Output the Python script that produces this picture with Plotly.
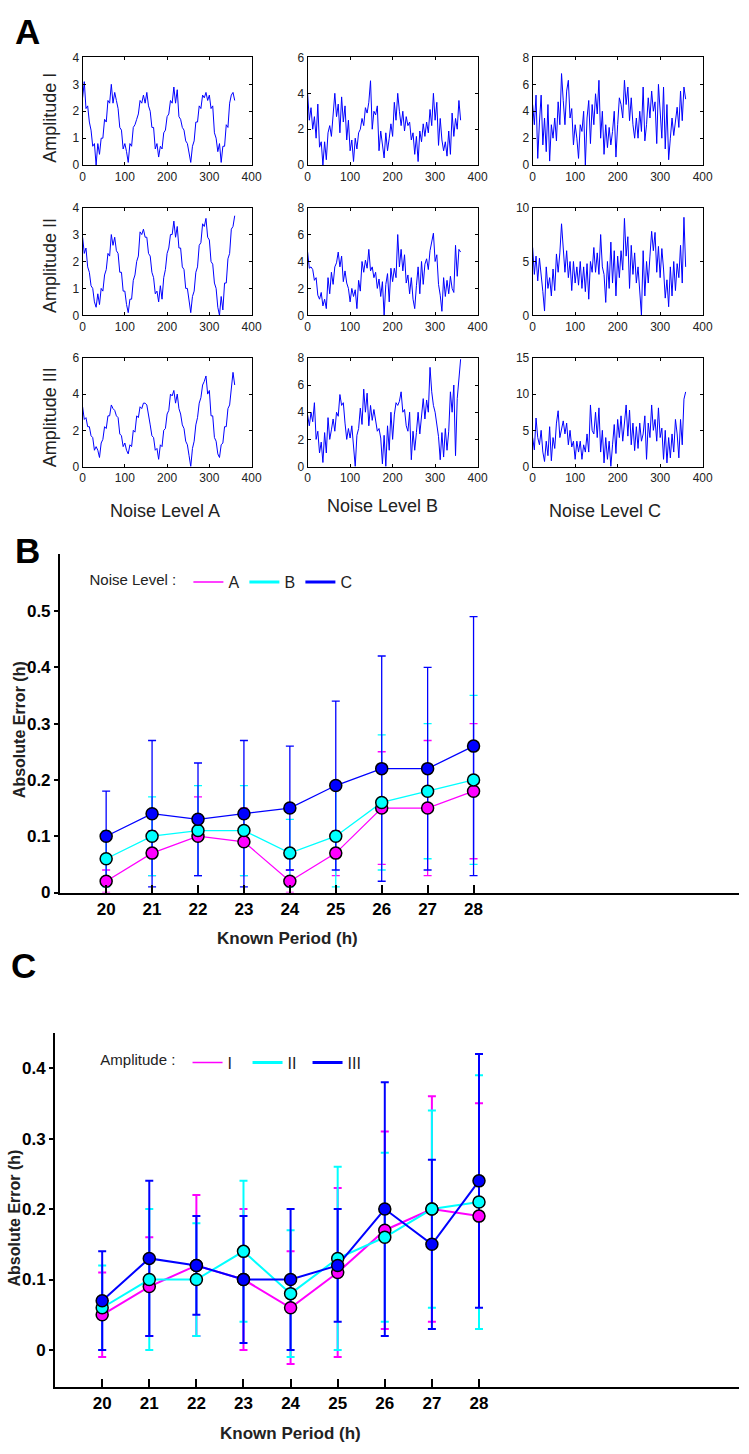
import plotly.graph_objects as go

W, H = 749, 1454

# ---- panel A: simulated time series (value every 4 h, 0..360) ----
hours = list(range(0, 361, 4))

amp1_noise_a = [2.5, 3.1, 2.1, 2.2, 1.6, 1.3, 0.7, 0.8, 0.0, 0.8,
                0.4, 1.0, 1.0, 1.7, 1.6, 2.4, 2.3, 3.0, 2.3, 2.7,
                2.4, 2.1, 1.4, 1.3, 0.6, 0.8, 0.5, 0.1, 0.8, 0.7,
                1.4, 1.5, 1.7, 1.9, 2.4, 2.3, 2.6, 2.3, 2.7, 2.2,
                2.0, 1.4, 1.4, 0.6, 0.8, 0.3, 0.7, 0.6, 1.2, 1.3,
                1.8, 1.9, 2.4, 2.3, 2.9, 2.3, 2.8, 1.8, 1.7, 1.4,
                1.3, 0.9, 0.8, 0.4, 0.1, 0.7, 0.9, 1.6, 1.6, 2.2,
                2.1, 2.6, 2.5, 2.7, 2.4, 2.6, 2.1, 2.2, 1.2, 1.0,
                0.5, 0.8, 0.1, 0.7, 0.7, 1.5, 1.4, 2.3, 2.6, 2.7,
                2.4]
amp2_noise_a = [2.9, 2.3, 2.5, 1.8, 1.6, 1.1, 1.0, 0.5, 0.3, 0.8,
                0.4, 1.0, 0.9, 1.5, 1.7, 2.3, 2.2, 3.0, 2.6, 2.9,
                2.4, 2.3, 1.6, 1.6, 0.9, 0.9, 0.4, 0.1, 0.6, 0.6,
                1.3, 1.5, 2.0, 2.2, 3.1, 3.0, 3.2, 2.9, 2.9, 2.3,
                2.2, 1.6, 1.4, 0.8, 0.9, 0.5, 1.1, 0.6, 1.4, 1.7,
                2.3, 2.5, 3.0, 3.0, 3.5, 2.9, 3.3, 2.5, 2.5, 1.8,
                1.7, 1.0, 1.0, 0.5, 0.1, 0.7, 0.9, 1.6, 1.8, 2.6,
                2.7, 3.4, 3.3, 3.6, 2.9, 2.8, 2.0, 1.9, 1.2, 1.0,
                0.3, 0.0, 0.7, 0.2, 1.2, 1.2, 2.1, 2.3, 3.2, 3.3,
                3.7]
amp3_noise_a = [3.3, 2.6, 2.7, 2.2, 2.2, 1.7, 1.6, 0.9, 1.1, 0.9,
                0.5, 1.3, 1.5, 2.2, 2.1, 2.8, 2.8, 3.4, 3.2, 3.1,
                2.8, 2.7, 1.8, 1.7, 1.1, 1.3, 0.9, 0.7, 1.2, 1.1,
                2.0, 1.9, 2.8, 2.7, 3.3, 3.2, 3.5, 3.5, 3.4, 2.7,
                2.3, 1.7, 1.6, 0.9, 1.0, 0.4, 1.2, 1.1, 2.0, 2.1,
                2.9, 3.1, 4.0, 3.9, 4.2, 3.5, 4.0, 3.2, 2.9, 2.3,
                2.1, 1.4, 1.2, 0.6, 0.0, 1.0, 1.4, 2.3, 2.7, 3.5,
                3.8, 4.5, 4.7, 5.0, 4.0, 4.2, 2.8, 2.8, 1.6, 1.4,
                0.7, 0.5, 1.2, 1.3, 2.2, 2.2, 3.2, 3.4, 4.5, 5.2,
                4.5]
amp1_noise_b = [4.0, 2.5, 3.2, 2.0, 2.7, 1.5, 3.4, 1.0, 1.3, 0.0,
                1.3, 0.3, 1.8, 2.2, 1.6, 2.6, 4.0, 2.7, 3.4, 1.8,
                3.8, 2.4, 3.3, 1.4, 2.5, 0.8, 1.4, 0.2, 1.5, 0.9,
                1.8, 2.0, 2.6, 2.2, 3.2, 2.9, 3.5, 4.7, 2.0, 3.0,
                2.8, 3.3, 0.8, 1.9, 1.2, 0.4, 1.8, 0.8, 1.5, 2.3,
                1.6, 3.5, 2.5, 4.0, 3.0, 2.2, 3.0, 1.9, 2.7, 2.2,
                2.4, 1.4, 1.8, 0.6, 1.6, 0.2, 1.9, 1.3, 2.3, 1.6,
                2.4, 1.8, 3.1, 2.2, 4.0, 2.5, 3.5, 1.1, 2.6, 1.4,
                0.8, 1.3, 0.5, 1.9, 0.6, 2.9, 1.6, 2.6, 2.0, 3.6,
                2.5]
amp2_noise_b = [4.7, 3.5, 3.6, 3.4, 2.6, 2.8, 1.5, 1.2, 1.7, 0.7,
                1.2, 0.5, 2.8, 1.6, 3.2, 2.3, 3.6, 3.9, 4.7, 3.6,
                4.4, 2.5, 3.3, 2.4, 2.0, 1.0, 2.0, 1.4, 1.9, 0.5,
                2.6, 1.8, 4.0, 3.2, 4.1, 3.5, 4.9, 3.3, 3.6, 2.8,
                3.2, 2.0, 2.7, 1.4, 2.5, 0.0, 2.3, 3.1, 1.0, 3.5,
                2.5, 3.5, 2.8, 6.0, 3.6, 4.9, 3.3, 4.5, 2.4, 3.0,
                1.6, 2.8, 1.2, 0.5, 2.2, 3.6, 1.6, 4.0, 2.3, 3.8,
                4.2, 3.4, 4.8, 5.5, 6.1, 4.0, 4.5, 2.3, 1.5, 0.3,
                2.8, 1.4, 2.6, 1.6, 2.9, 2.0, 1.7, 5.2, 2.9, 4.9,
                4.7]
amp3_noise_b = [3.8, 3.0, 4.0, 3.3, 4.7, 2.0, 2.6, 1.0, 1.8, 0.3,
                2.5, 1.0, 3.6, 2.0, 2.7, 3.5, 2.6, 4.0, 3.7, 5.3,
                4.5, 4.7, 3.2, 2.0, 2.8, 2.1, 3.0, 1.2, 0.0, 2.3,
                2.8, 4.3, 3.1, 5.7, 4.0, 5.4, 3.0, 4.5, 3.4, 4.2,
                3.3, 2.6, 2.8, 2.1, 0.2, 2.3, 0.0, 3.0, 1.2, 4.0,
                2.0, 3.8, 4.7, 4.5, 4.8, 5.5, 4.0, 4.2, 3.0, 2.6,
                4.0, 0.5, 2.6, 1.2, 2.5, 4.0, 2.4, 3.7, 5.0, 3.5,
                4.9, 4.0, 7.3, 5.5, 4.5, 4.0, 3.0, 2.2, 0.5, 2.5,
                0.7, 2.8, 1.2, 2.6, 5.5, 4.0, 6.0, 0.8, 5.0, 6.5,
                7.9]
amp1_noise_c = [4.5, 3.0, 5.2, 0.5, 3.2, 5.2, 1.5, 3.5, 1.0, 4.5,
                0.3, 3.0, 2.0, 3.5, 1.8, 4.7, 3.0, 6.8, 4.8, 3.0,
                5.5, 6.3, 3.5, 4.2, 1.5, 3.0, 2.0, 0.5, 3.0, 2.5,
                4.0, 0.0, 3.5, 4.8, 1.6, 4.5, 3.0, 5.3, 3.8, 6.3,
                2.0, 4.0, 0.8, 3.0, 1.3, 2.8, 1.5, 2.5, 4.0, 0.6,
                3.0, 5.0, 4.5, 3.5, 6.3, 4.5, 5.8, 3.3, 5.0, 3.0,
                2.0, 3.5, 2.0, 4.0, 2.5, 5.8, 1.8, 3.0, 5.0, 3.5,
                5.5, 4.0, 4.7, 1.6, 6.0, 3.5, 2.0, 5.8, 1.2, 4.5,
                0.4, 2.0, 3.5, 2.2, 3.5, 4.3, 2.8, 5.5, 3.3, 5.8,
                4.9]
amp2_noise_c = [6.3, 3.8, 5.5, 3.2, 5.3, 4.0, 2.2, 0.4, 4.5, 2.5,
                3.5, 1.8, 4.3, 2.3, 5.7, 4.0, 5.8, 8.5, 6.0, 4.0,
                6.0, 3.5, 5.0, 2.3, 5.0, 3.0, 4.5, 2.8, 5.0, 2.5,
                4.5, 2.2, 4.8, 1.5, 5.0, 4.0, 6.3, 4.0, 5.8, 3.8,
                7.5, 4.5, 3.8, 1.2, 5.0, 2.5, 6.8, 3.0, 6.0, 1.8,
                5.5, 3.5, 6.0, 4.2, 9.0, 5.5, 7.3, 2.5, 6.5, 3.8,
                5.8, 3.0, 4.5, 2.0, 0.0, 6.0, 1.8, 5.0, 3.0, 5.5,
                7.8, 6.0, 7.7, 4.0, 6.4, 3.5, 6.2, 4.3, 1.6, 3.3,
                0.8, 4.5, 1.8, 5.0, 2.3, 4.8, 3.5, 6.5, 3.0, 9.1,
                4.5]
amp3_noise_c = [4.0, 2.3, 6.7, 4.0, 3.0, 5.0, 2.0, 0.7, 3.5, 1.5,
                5.5, 0.8, 4.0, 2.5, 6.0, 7.7, 4.0, 5.0, 6.3, 4.5,
                6.0, 3.0, 5.0, 2.7, 3.5, 1.0, 3.5, 2.0, 3.5, 1.0,
                3.0, 2.0, 4.5, 2.0, 8.5, 5.0, 4.5, 7.5, 4.0, 8.1,
                2.0, 5.0, 0.5, 4.0, 1.0, 3.5, 0.0, 3.0, 5.8, 1.8,
                6.5, 4.0, 7.0, 3.5, 6.0, 8.5, 4.2, 7.8, 3.0, 6.0,
                2.2, 5.5, 2.5, 6.0, 3.5, 4.5, 7.0, 1.0, 6.0, 4.0,
                8.5, 5.0, 6.5, 3.5, 8.1, 4.0, 5.3, 1.0, 5.0, 0.5,
                4.0, 1.2, 4.5, 2.0, 6.5, 4.5, 1.2, 6.5, 3.0, 9.3,
                10.3]

amp_labels = ['Amplitude I', 'Amplitude II', 'Amplitude III']
noise_labels = ['Noise Level A', 'Noise Level B', 'Noise Level C']
y_max = [[4, 6, 8], [4, 8, 10], [6, 8, 15]]
y_step = [[1, 2, 2], [1, 2, 5], [2, 2, 5]]

# ---- panel B: error vs known period, by noise level ----
periods = [20, 21, 22, 23, 24, 25, 26, 27, 28]
noise_names = ['A', 'B', 'C']
noise_mean = [
    [0.02, 0.07, 0.10, 0.09, 0.02, 0.07, 0.15, 0.15, 0.18],
    [0.06, 0.10, 0.11, 0.11, 0.07, 0.10, 0.16, 0.18, 0.20],
    [0.10, 0.14, 0.13, 0.14, 0.15, 0.19, 0.22, 0.22, 0.26],
]
noise_sd = [
    [0.02, 0.04, 0.07, 0.06, 0.02, 0.04, 0.10, 0.12, 0.12],
    [0.05, 0.07, 0.08, 0.08, 0.06, 0.09, 0.12, 0.12, 0.15],
    [0.08, 0.13, 0.10, 0.13, 0.11, 0.15, 0.20, 0.18, 0.23],
]

# ---- panel C: error vs known period, by amplitude ----
amp_names = ['I', 'II', 'III']
amp_mean = [
    [0.05, 0.09, 0.12, 0.10, 0.06, 0.11, 0.17, 0.20, 0.19],
    [0.06, 0.10, 0.10, 0.14, 0.08, 0.13, 0.16, 0.20, 0.21],
    [0.07, 0.13, 0.12, 0.10, 0.10, 0.12, 0.20, 0.15, 0.24],
]
amp_sd = [
    [0.06, 0.07, 0.10, 0.10, 0.08, 0.12, 0.14, 0.16, 0.16],
    [0.06, 0.10, 0.08, 0.10, 0.09, 0.13, 0.12, 0.14, 0.18],
    [0.07, 0.11, 0.07, 0.09, 0.10, 0.08, 0.18, 0.12, 0.18],
]

colors = ['#ff00ff', '#00ffff', '#0000ff']
SANS = 'Liberation Sans, Arial, sans-serif'

series = [[amp1_noise_a, amp1_noise_b, amp1_noise_c],
          [amp2_noise_a, amp2_noise_b, amp2_noise_c],
          [amp3_noise_a, amp3_noise_b, amp3_noise_c]]


def px(x):
    return x / W


def py(y):
    return 1 - y / H


fig = go.Figure()
layout = {}
annotations = []

col_px = [(81, 253), (310, 483), (539, 712)]
row_px = [(51, 160), (203, 312), (355, 465)]

for r in range(3):
    for c in range(3):
        n = r * 3 + c + 1
        ys = series[r][c]
        assert len(ys) == len(hours)
        fig.add_trace(go.Scatter(
            x=hours, y=ys, mode='lines',
            line=dict(color='#0000ff', width=1),
            showlegend=False, hoverinfo='skip',
            xaxis=f'x{n}', yaxis=f'y{n}'
        ))
        common = dict(
            showline=True, linecolor='black', linewidth=1, mirror='ticks',
            ticks='inside', ticklen=3, tickcolor='black',
            showgrid=False, zeroline=False,
            tickfont=dict(family=SANS, size=12, color='#222'),
        )
        layout[f'xaxis{n}'] = dict(
            common, domain=[px(col_px[c][0]), px(col_px[c][1])],
            range=[0, 400], dtick=100, anchor=f'y{n}',
        )
        layout[f'yaxis{n}'] = dict(
            common, domain=[py(row_px[r][1]), py(row_px[r][0])],
            range=[0, y_max[r][c]], dtick=y_step[r][c], anchor=f'x{n}',
        )

for r, label in enumerate(amp_labels):
    annotations.append(dict(
        text=label, x=px(48), y=py([112, 262, 415][r]), textangle=-90,
        font=dict(family=SANS, size=18, color='#222')
    ))
for c, label in enumerate(noise_labels):
    annotations.append(dict(
        text=label, x=px([165, 386, 613][c]), y=py([510, 505, 510][c]),
        font=dict(family=SANS, size=18, color='#222')
    ))


def error_panel(xa, ya, means, sds, names, legend, lw, ew, legend_w):
    for k in range(3):
        fig.add_trace(go.Scatter(
            x=periods, y=means[k], mode='lines',
            line=dict(color=colors[k], width=lw),
            error_y=dict(type='data', array=sds[k], color=colors[k],
                         thickness=ew, width=4),
            showlegend=False, xaxis=xa, yaxis=ya
        ))
    for k in range(3):
        fig.add_trace(go.Scatter(
            x=periods, y=means[k], mode='markers',
            marker=dict(size=12, color=colors[k], line=dict(color='black', width=1.5)),
            showlegend=False, xaxis=xa, yaxis=ya
        ))
    for k in range(3):
        fig.add_trace(go.Scatter(
            x=[None], y=[None], mode='lines', name=names[k],
            line=dict(color=colors[k], width=legend_w[k]),
            legend=legend, xaxis=xa, yaxis=ya
        ))


error_panel('x10', 'y10', noise_mean, noise_sd, noise_names, 'legend', 1.3, 1.3, [1.5, 3, 3])
error_panel('x11', 'y11', amp_mean, amp_sd, amp_names, 'legend2', 2, 2, [1.5, 3, 3])

big_x = dict(
    tickvals=periods, showline=True, linecolor='black', linewidth=2,
    ticks='inside', ticklen=8, tickwidth=2, tickcolor='black',
    showgrid=False, zeroline=False,
    tickfont=dict(family=SANS, size=17, color='black', weight='bold'),
)
big_y = dict(
    showline=True, linecolor='black', linewidth=2,
    ticks='outside', ticklen=4, tickwidth=1.5, tickcolor='black',
    showgrid=False, zeroline=False,
    tickfont=dict(family=SANS, size=17, color='black', weight='bold'),
)
layout['xaxis10'] = dict(big_x, domain=[px(58), 1], range=[18.995, 33.78], anchor='y10')
layout['yaxis10'] = dict(big_y, domain=[py(896), py(553)], range=[0, 0.602], anchor='x10',
                         tickvals=[0, 0.1, 0.2, 0.3, 0.4, 0.5],
                         ticktext=['0', '0.1', '0.2', '0.3', '0.4', '0.5'])
layout['xaxis11'] = dict(big_x, domain=[px(53), 1], range=[19.0, 33.52], anchor='y11')
layout['yaxis11'] = dict(big_y, domain=[py(1396), py(1038)], range=[-0.052, 0.45], anchor='x11',
                         tickvals=[0, 0.1, 0.2, 0.3, 0.4],
                         ticktext=['0', '0.1', '0.2', '0.3', '0.4'])

title_font = dict(family=SANS, size=16, color='#222', weight='bold')
annotations += [
    dict(text='Absolute Error (h)', x=px(17), y=py(731), textangle=-90, font=title_font),
    dict(text='Known Period (h)', x=px(290), y=py(943), font=dict(title_font, size=17)),
    dict(text='Absolute Error (h)', x=px(12), y=py(1225), textangle=-90, font=title_font),
    dict(text='Known Period (h)', x=px(293), y=py(1443), font=dict(title_font, size=17)),
]
for letter, (lx, ly) in zip(['A', 'B', 'C'], [(25, 25), (25, 550), (21, 970)]):
    annotations.append(dict(text=letter, x=px(lx), y=py(ly),
                            font=dict(family=SANS, size=35, color='black', weight='bold')))
for a in annotations:
    a.update(showarrow=False, xref='paper', yref='paper',
             xanchor='center', yanchor='middle')

legend_style = dict(
    orientation='h', xanchor='left', yanchor='middle',
    bgcolor='rgba(0,0,0,0)', borderwidth=0,
    font=dict(family=SANS, size=16, color='#222'),
    entrywidthmode='pixels',
)

fig.update_layout(
    width=W, height=H,
    margin=dict(l=0, r=0, t=0, b=0),
    paper_bgcolor='white', plot_bgcolor='white',
    annotations=annotations,
    legend=dict(legend_style, x=px(86), y=py(582), entrywidth=11,
                title=dict(text='Noise Level : ', font=dict(family=SANS, size=15, color='#222'))),
    legend2=dict(legend_style, x=px(97), y=py(1068), entrywidth=15,
                 title=dict(text='Amplitude : ', font=dict(family=SANS, size=15, color='#222'))),
    **layout
)

# drop the default 8px page margin so the figure sits at the window's corner
fig.write_html('out.html', config={'displayModeBar': False},
               post_script="document.body.style.margin='0px';")
